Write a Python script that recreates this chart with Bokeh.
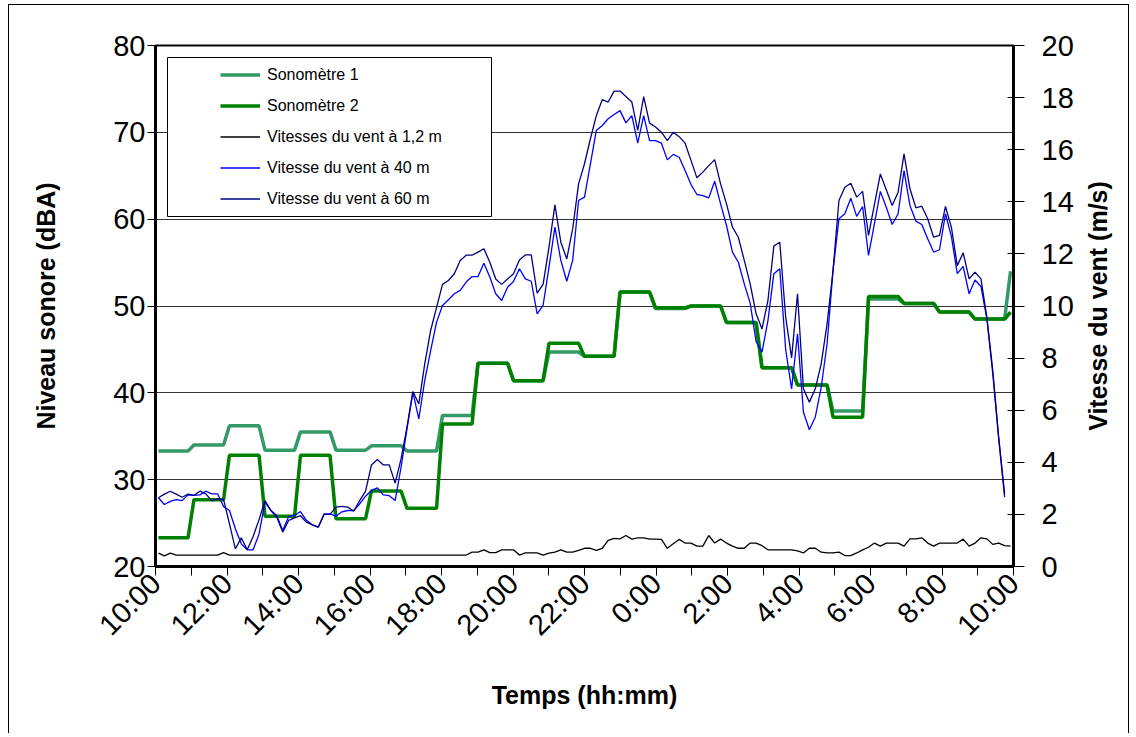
import math
from bokeh.plotting import figure
from bokeh.models import (Range1d, LinearAxis, FixedTicker, Legend, LegendItem,
                          BoxAnnotation, ColumnDataSource, Label)
from bokeh.embed import file_html
from bokeh.resources import INLINE

# ---------------- data ----------------
tick_labels = ["10:00", "12:00", "14:00", "16:00", "18:00", "20:00", "22:00",
               "0:00", "2:00", "4:00", "6:00", "8:00", "10:00"]

# hourly sound levels (dBA), 10:00 -> 9:00, plus first value of the next hour
sono1_hourly = [33.3, 34.0, 36.2, 33.4, 35.5, 33.4, 33.9, 33.3, 37.4, 43.4, 41.4, 44.7,
                44.2, 51.6, 49.7, 50.0, 48.1, 42.9, 40.9, 37.9, 50.8, 50.3, 49.3, 48.5]
sono1_last = 54.0
sono2_hourly = [23.3, 27.7, 32.8, 25.8, 32.8, 25.5, 28.7, 26.7, 36.4, 43.4, 41.4, 45.7,
                44.2, 51.6, 49.8, 50.0, 48.1, 42.9, 40.9, 37.2, 51.1, 50.3, 49.3, 48.5]
sono2_last = 49.3

# wind speeds (m/s), 10-minute samples
wind_60 = [2.64, 2.78, 2.89, 2.78, 2.66, 2.78,
           2.73, 2.89, 2.79, 2.53, 2.60, 2.58,
           1.64, 0.68, 1.10, 0.64, 1.15, 1.80,
           2.53, 2.15, 1.89, 1.32, 1.77, 1.87,
           1.95, 1.70, 1.60, 1.51, 2.00, 2.00,
           2.28, 2.31, 2.28, 2.12, 2.53, 2.89,
           3.90, 4.11, 3.90, 3.90, 3.20, 4.13,
           5.35, 6.72, 6.24, 7.78, 9.06, 9.95,
           10.83, 10.98, 11.24, 11.75, 11.95, 11.95,
           12.07, 12.20, 11.68, 11.04, 10.83, 11.04,
           11.24, 11.77, 11.96, 11.96, 10.49, 10.83,
           12.26, 13.88, 12.45, 11.81, 12.96, 14.69,
           15.46, 16.42, 17.31, 17.92, 17.83, 18.25,
           18.25, 18.04, 17.83, 16.74, 18.04, 17.02,
           16.87, 16.67, 16.35, 16.67, 16.50, 16.25,
           15.59, 14.92, 15.14, 15.39, 15.62, 14.69,
           13.92, 13.03, 12.64, 11.75, 10.85, 9.70,
           9.12, 10.21, 12.30, 12.45, 9.57, 8.01,
           10.47, 6.82, 6.31, 6.82, 7.78, 9.32,
           11.36, 14.05, 14.56, 14.71, 14.18, 14.40,
           12.71, 13.90, 15.07, 14.46, 13.86, 14.37,
           15.84, 14.50, 13.77, 13.83, 13.35, 12.64,
           12.71, 13.82, 13.03, 11.55, 12.04, 11.04,
           11.30, 11.04, 9.57, 7.52, 4.96, 2.79]

wind_40 = [2.64, 2.38, 2.50, 2.57, 2.53, 2.75,
           2.73, 2.75, 2.89, 2.79, 2.79, 2.30,
           2.15, 1.45, 0.87, 0.64, 0.64, 1.25,
           2.47, 2.15, 1.96, 1.38, 1.92, 1.96,
           2.11, 1.77, 1.60, 1.51, 2.02, 2.02,
           1.93, 2.10, 2.15, 2.15, 2.40, 2.70,
           2.92, 3.02, 2.75, 2.72, 2.53, 3.81,
           5.28, 6.69, 5.67, 7.14, 8.29, 9.38,
           10.02, 10.24, 10.47, 10.60, 10.92, 11.13,
           11.13, 11.64, 11.11, 10.47, 10.21, 10.72,
           10.94, 11.43, 11.04, 10.95, 9.70, 10.02,
           11.49, 13.03, 11.75, 10.95, 11.75, 14.05,
           14.18, 15.46, 16.74, 16.93, 17.19, 17.35,
           17.50, 17.03, 17.31, 16.25, 17.31, 16.35,
           16.35, 16.25, 15.61, 15.82, 15.71, 15.20,
           14.66, 14.28, 14.24, 14.15, 14.79, 13.92,
           13.09, 12.07, 11.68, 10.85, 10.11, 8.64,
           8.23, 9.44, 11.24, 11.43, 8.32, 6.82,
           8.93, 5.92, 5.25, 5.73, 6.88, 8.55,
           11.36, 13.35, 13.54, 14.14, 13.44, 13.82,
           11.94, 13.16, 14.40, 13.79, 13.13, 13.54,
           15.20, 13.86, 13.26, 13.13, 12.58, 12.07,
           12.16, 13.54, 12.67, 11.24, 11.52, 10.47,
           11.00, 10.75, 9.51, 7.40, 4.90, 2.66]

wind_1_2 = [0.51, 0.41, 0.51, 0.44, 0.44, 0.44,
            0.44, 0.44, 0.44, 0.44, 0.44, 0.53,
            0.44, 0.44, 0.44, 0.44, 0.44, 0.44,
            0.44, 0.44, 0.44, 0.44, 0.44, 0.44,
            0.44, 0.44, 0.44, 0.44, 0.44, 0.44,
            0.44, 0.44, 0.44, 0.44, 0.44, 0.44,
            0.44, 0.44, 0.44, 0.44, 0.44, 0.44,
            0.44, 0.44, 0.44, 0.44, 0.44, 0.44,
            0.44, 0.44, 0.44, 0.44, 0.44, 0.55,
            0.55, 0.64, 0.53, 0.53, 0.64, 0.64,
            0.64, 0.44, 0.52, 0.52, 0.52, 0.44,
            0.51, 0.55, 0.64, 0.55, 0.55, 0.62,
            0.70, 0.70, 0.62, 0.70, 1.00, 1.08,
            1.06, 1.19, 1.05, 1.10, 1.10, 1.05,
            1.05, 1.04, 0.70, 0.87, 1.04, 0.90,
            0.90, 0.78, 0.78, 1.19, 0.90, 1.05,
            0.90, 0.78, 0.70, 0.70, 0.90, 0.90,
            0.80, 0.64, 0.64, 0.64, 0.64, 0.64,
            0.60, 0.52, 0.70, 0.70, 0.55, 0.52,
            0.52, 0.55, 0.42, 0.42, 0.52, 0.64,
            0.74, 0.90, 0.78, 0.90, 0.90, 0.90,
            0.78, 1.06, 1.06, 1.10, 0.90, 0.78,
            0.90, 0.90, 0.90, 0.90, 1.05, 0.78,
            0.90, 1.10, 1.06, 0.85, 0.90, 0.80,
            0.78]

series_labels = ["Sonomètre 1", "Sonomètre 2", "Vitesses du vent à 1,2 m",
                 "Vitesse du vent à 40 m", "Vitesse du vent à 60 m"]

# ---------------- build ----------------
N = len(wind_1_2)                      # 145 ten-minute categories over 24 h
HOURS = 24
xs = [(k + 0.5) * HOURS / N for k in range(N)]
sono1 = [v for v in sono1_hourly for _ in range(6)] + [sono1_last]
sono2 = [v for v in sono2_hourly for _ in range(6)] + [sono2_last]

FONT = "Liberation Sans"
FW, FH = 858, 521
TICK_FS = "29px"
TITLE_FS = "25px"

p = figure(width=FW + 146 + 115, height=FH + 40 + 167,
           frame_width=FW, frame_height=FH,
           min_border_left=146, min_border_right=115,
           min_border_top=40, min_border_bottom=167,
           x_range=Range1d(0, HOURS), y_range=Range1d(20, 80),
           output_backend="svg", toolbar_location=None)
p.styles = {"margin-left": "8px", "margin-top": "4px",
            "border-top": "1px solid black", "border-left": "1px solid black",
            "border-right": "1px solid black"}
p.extra_y_ranges = {"wind": Range1d(0, 20)}
p.background_fill_color = "white"
p.border_fill_color = "white"
p.outline_line_color = "black"
p.outline_line_width = 2

# grid
p.xgrid.visible = False
p.ygrid.ticker = FixedTicker(ticks=[30, 40, 50, 60, 70])
p.ygrid.grid_line_color = "#333333"
p.ygrid.grid_line_width = 1

# left axis
ya = p.yaxis[0]
ya.ticker = FixedTicker(ticks=[20, 30, 40, 50, 60, 70, 80])
ya.axis_label = "Niveau sonore (dBA)"
ya.axis_line_width = 3
ya.major_tick_in = 0
ya.major_tick_out = 8
ya.major_tick_line_width = 1
ya.minor_tick_line_color = None
ya.major_label_standoff = 2
ya.major_label_text_font = FONT
ya.major_label_text_font_size = TICK_FS
ya.major_label_text_color = "black"
ya.axis_label_text_font = FONT
ya.axis_label_text_font_size = TITLE_FS
ya.axis_label_text_font_style = "bold"
ya.axis_label_text_color = "black"
ya.axis_label_standoff = 50

# bottom axis
xa = p.xaxis[0]
xa.ticker = FixedTicker(ticks=list(range(HOURS + 1)))
xa.major_label_overrides = {h: (tick_labels[h // 2] if h % 2 == 0 else "")
                            for h in range(HOURS + 1)}
xa.major_label_orientation = math.pi / 4
xa.axis_label = "Temps (hh:mm)"
xa.axis_line_width = 3
xa.major_tick_in = 0
xa.major_tick_out = 9
xa.major_tick_line_width = 1
xa.minor_tick_line_color = None
xa.major_label_standoff = 3
xa.major_label_text_font = FONT
xa.major_label_text_font_size = TICK_FS
xa.major_label_text_color = "black"
xa.axis_label_text_font = FONT
xa.axis_label_text_font_size = TITLE_FS
xa.axis_label_text_font_style = "bold"
xa.axis_label_text_color = "black"
xa.axis_label_standoff = 26

# right axis (its title is drawn as a rotated label reading upwards)
ra = LinearAxis(y_range_name="wind", ticker=FixedTicker(ticks=list(range(0, 21, 2))))
ra.axis_line_width = 3
ra.major_tick_in = 6
ra.major_tick_out = 11
ra.major_tick_line_width = 1
ra.minor_tick_line_color = None
ra.major_label_standoff = 17
ra.major_label_text_font = FONT
ra.major_label_text_font_size = TICK_FS
ra.major_label_text_color = "black"
p.add_layout(ra, "right")

right_title = Label(x=HOURS, y=10, y_range_name="wind", x_offset=84,
                    text="Vitesse du vent (m/s)", angle=math.pi / 2,
                    text_align="center", text_baseline="middle",
                    text_font=FONT, text_font_size=TITLE_FS,
                    text_font_style="bold", text_color="black")
p.add_layout(right_title, "right")

# series
src = ColumnDataSource(dict(x=xs, s1=sono1, s2=sono2, w12=wind_1_2,
                            w40=wind_40 + [float("nan")], w60=wind_60 + [float("nan")]))
r1 = p.line("x", "s1", source=src, line_color="#339966", line_width=3.5)
r2 = p.line("x", "s2", source=src, line_color="#008000", line_width=3.5)
r3 = p.line("x", "w12", source=src, y_range_name="wind", line_color="black", line_width=1.3)
r4 = p.line("x", "w40", source=src, y_range_name="wind", line_color="#0000FF", line_width=1.3)
r5 = p.line("x", "w60", source=src, y_range_name="wind", line_color="#000080", line_width=1.3)

# legend frame (pixel offsets inside the plot frame converted to data units)
def fx(px):
    return px / FW * HOURS

def fy(px):
    return 80 - px / FH * 60

box = BoxAnnotation(left=fx(12), right=fx(336), top=fy(12), bottom=fy(171),
                    fill_color="white", fill_alpha=1.0,
                    line_color="black", line_width=1, line_alpha=1.0)
p.add_layout(box)

legend = Legend(items=[LegendItem(label=l, renderers=[r])
                       for l, r in zip(series_labels, [r1, r2, r3, r4, r5])],
                location=(65, FH - 14 - 155), margin=0, padding=0, spacing=0,
                glyph_width=40, glyph_height=31, label_height=31,
                label_standoff=7, label_text_font=FONT,
                label_text_font_size="16px", label_text_color="black",
                background_fill_alpha=0, border_line_color=None)
p.add_layout(legend)

open("out.html", "w").write(file_html(p, INLINE))
